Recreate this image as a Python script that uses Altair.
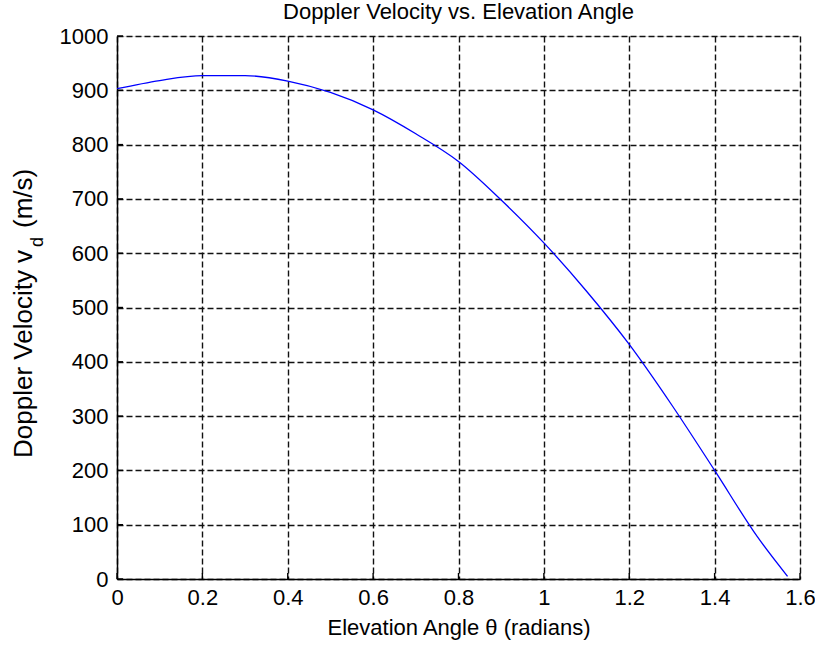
import altair as alt
import pandas as pd

# ---- data ----
theta = [0.0, 0.1, 0.2, 0.3, 0.4, 0.5, 0.6, 0.7, 0.8, 0.9, 1.0, 1.1, 1.2, 1.3, 1.4, 1.5, 1.5708]
velocity = [903, 918, 927, 927, 917, 896, 864, 820, 769, 698, 619, 530, 432, 320, 200, 78, 5]

x_ticks = [0, 0.2, 0.4, 0.6, 0.8, 1.0, 1.2, 1.4, 1.6]
y_ticks = [0, 100, 200, 300, 400, 500, 600, 700, 800, 900, 1000]

title_text = "Doppler Velocity vs. Elevation Angle"
x_title = "Elevation Angle θ (radians)"
y_title_main = "Doppler Velocity v"
y_title_sub = "d"
y_title_tail = "(m/s)"

FONT = "Liberation Sans"
FS = 22
YFS = 26

df = pd.DataFrame({"theta": theta, "v": velocity})

W, H = 683, 543

grid_style = dict(grid=True, gridDash=[6, 3], gridColor="#111111", gridWidth=1.4, gridOpacity=1,
                  domainColor="#000000", domainWidth=1.5, ticks=False,
                  labelFont=FONT, labelFontSize=FS, labelColor="#000000", labelFlush=False)

x_enc = alt.X("theta:Q",
              scale=alt.Scale(domain=[0, 1.6], nice=False, zero=False),
              axis=alt.Axis(values=x_ticks, format=".1~f", title=x_title, labelPadding=8,
                            titleFont=FONT, titleFontSize=FS, titleFontWeight="normal", titleColor="#000000",
                            titlePadding=9, **grid_style))
y_enc = alt.Y("v:Q",
              scale=alt.Scale(domain=[0, 1000], nice=False),
              axis=alt.Axis(values=y_ticks, format="d", title=None, labelPadding=9, **grid_style))

line = alt.Chart(df).mark_line(color="#0000ff", strokeWidth=1.3, interpolate="monotone").encode(
    x=x_enc, y=y_enc)

# inward tick marks on the bottom and left axes
xt = alt.Chart(pd.DataFrame({"theta": x_ticks})).mark_rule(color="#000000", strokeWidth=1.4).encode(
    x=x_enc, y=alt.value(H), y2=alt.value(H - 6))
yt = alt.Chart(pd.DataFrame({"v": y_ticks})).mark_rule(color="#000000", strokeWidth=1.4).encode(
    y=y_enc, x=alt.value(0), x2=alt.value(6))

# chart title as a text mark
t_title = alt.Chart(pd.DataFrame({"t": [title_text]})).mark_text(
    align="center", baseline="alphabetic", font=FONT, fontSize=FS, color="#000000"
).encode(text="t:N", x=alt.value(W / 2), y=alt.value(-17.5))

# y-axis title with subscript, drawn as rotated text pieces
t_main = alt.Chart(pd.DataFrame({"t": [y_title_main]})).mark_text(
    angle=270, align="left", baseline="alphabetic", font=FONT, fontSize=YFS, color="#000000"
).encode(text="t:N", x=alt.value(-85), y=alt.value(422))

t_sub = alt.Chart(pd.DataFrame({"t": [y_title_sub]})).mark_text(
    angle=270, align="left", baseline="alphabetic", font=FONT, fontSize=18, color="#000000"
).encode(text="t:N", x=alt.value(-74), y=alt.value(211))

t_tail = alt.Chart(pd.DataFrame({"t": [y_title_tail]})).mark_text(
    angle=270, align="left", baseline="alphabetic", font=FONT, fontSize=YFS, color="#000000"
).encode(text="t:N", x=alt.value(-85), y=alt.value(192))

chart = alt.layer(line, xt, yt, t_title, t_main, t_sub, t_tail).properties(
    width=W, height=H,
    padding={"left": 117, "top": 36, "right": 15, "bottom": 69},
    autosize=alt.AutoSizeParams(type="none"),
).configure_view(stroke=None).configure(background="#ffffff")

chart.save("out.html", embed_options={"renderer": "svg", "actions": False})
